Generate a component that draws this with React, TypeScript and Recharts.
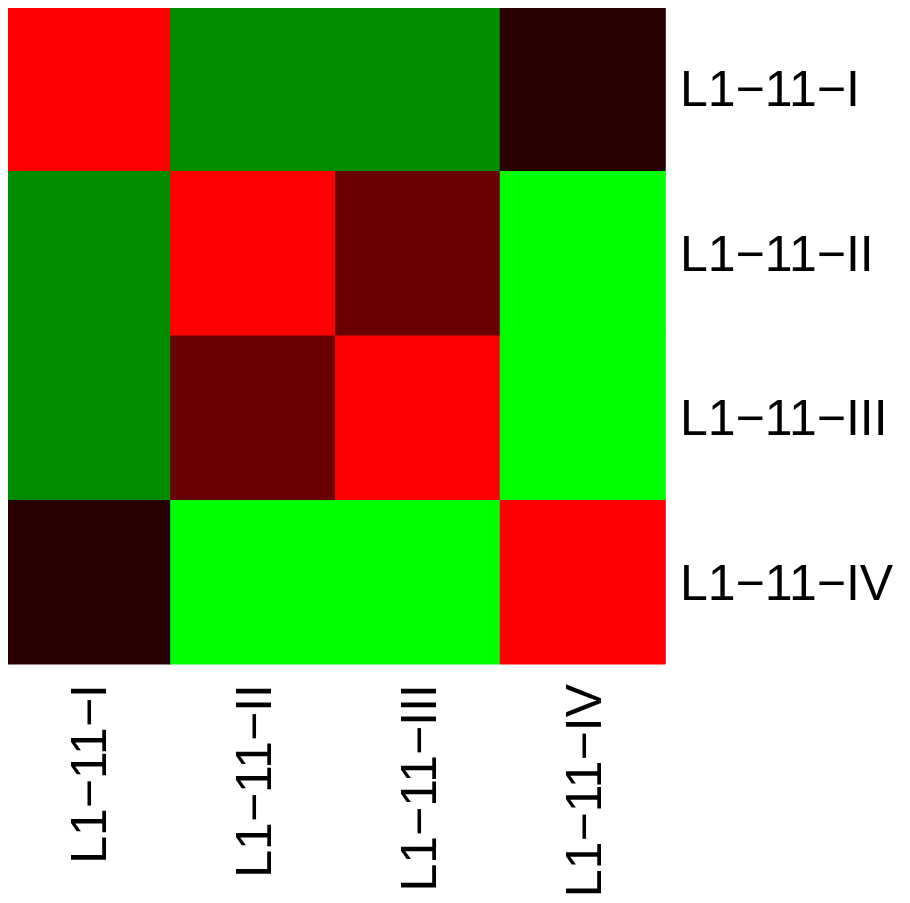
import { Bar, BarChart, Cell, XAxis, YAxis } from 'recharts';

const samples = ['L1−11−I', 'L1−11−II', 'L1−11−III', 'L1−11−IV'];

// correlation matrix, rows top→bottom, columns left→right
const rowI = [1, -0.55, -0.55, 0.16];
const rowII = [-0.55, 1, 0.42, -1];
const rowIII = [-0.55, 0.42, 1, -1];
const rowIV = [0.16, -1, -1, 1];
const matrix = [rowI, rowII, rowIII, rowIV];

// y positions of row centres, top row first
const rowTicks = [3.5, 2.5, 1.5, 0.5];

// green (-1) -> black (0) -> red (+1)
function corrColor(v: number) {
  const c = Math.round(Math.min(1, Math.abs(v)) * 255);
  return v >= 0 ? `rgb(${c},0,0)` : `rgb(0,${c},0)`;
}

// one stacked unit per cell; r4 (bottom row) is stacked first
const data = samples.map((name, ci) => ({
  name,
  r4: 1,
  r3: 1,
  r2: 1,
  r1: 1,
  colors: matrix.map((row) => corrColor(row[ci])),
}));

const rowKeys = ['r4', 'r3', 'r2', 'r1'];

const FONT = '"Liberation Sans", Arial, Helvetica, sans-serif';
const FS = 50;

const RowTick = (props: any) => {
  const { x, y, payload } = props;
  const idx = rowTicks.indexOf(payload.value);
  return (
    <text x={x + 15} y={y + 18} fontSize={FS} fontFamily={FONT} fill="#000" textAnchor="start">
      {samples[idx]}
    </text>
  );
};

const ColTick = (props: any) => {
  const { x, y, payload } = props;
  const tx = x + 18;
  const ty = y + 20;
  return (
    <text
      x={tx}
      y={ty}
      fontSize={FS}
      fontFamily={FONT}
      fill="#000"
      textAnchor="end"
      transform={`rotate(-90, ${tx}, ${ty})`}
    >
      {payload.value}
    </text>
  );
};

export default function App() {
  return (
    <div style={{ margin: -8, background: '#fff', width: 910, height: 903 }}>
      <BarChart
        width={910}
        height={903}
        data={data}
        margin={{ top: 6, left: 6, right: 0, bottom: 0 }}
        barCategoryGap={0}
        barGap={0}
      >
        <XAxis
          dataKey="name"
          height={239}
          axisLine={false}
          tickLine={false}
          tickSize={0}
          tickMargin={0}
          interval={0}
          tick={<ColTick />}
        />
        <YAxis
          orientation="right"
          type="number"
          domain={[0, 4]}
          ticks={rowTicks}
          width={245}
          axisLine={false}
          tickLine={false}
          tickSize={0}
          tickMargin={0}
          interval={0}
          tick={<RowTick />}
        />
        {rowKeys.map((key, k) => {
          const rowIdx = 3 - k;
          return (
            <Bar key={key} dataKey={key} stackId="a" isAnimationActive={false}>
              {data.map((d, i) => (
                <Cell key={i} fill={d.colors[rowIdx]} stroke={d.colors[rowIdx]} strokeWidth={1} />
              ))}
            </Bar>
          );
        })}
      </BarChart>
    </div>
  );
}
